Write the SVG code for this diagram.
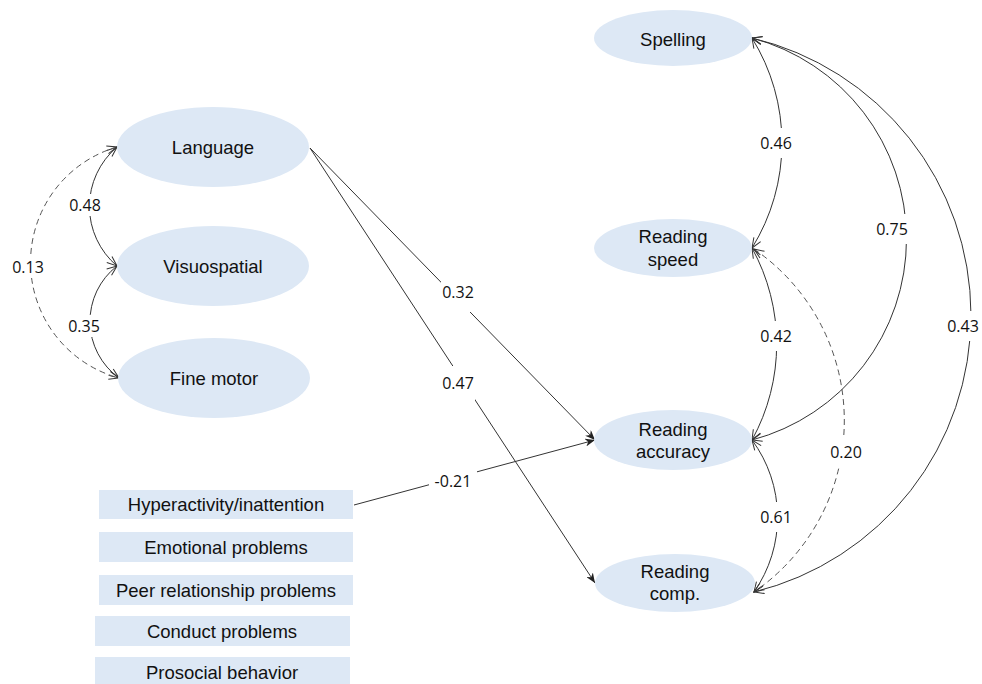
<svg xmlns="http://www.w3.org/2000/svg" width="982" height="684" viewBox="0 0 982 684">
<style>
.node ellipse, .node rect { fill: #dde8f5; stroke: none; }
.node text { font-family: "Liberation Sans", Arial, sans-serif; font-size: 18.5px; fill: #111; text-anchor: middle; }
.c { fill: none; stroke: #333; stroke-width: 1; }
.cv { marker-start: url(#open); marker-end: url(#open); }
.d { stroke: #555; stroke-dasharray: 6 4; }
.s { marker-end: url(#solid); }
.lb { fill: #fff; stroke: none; }
.lt { font-family: "Open Sans", "Noto Sans", sans-serif; font-size: 16px; fill: #111; text-anchor: middle; }
</style>
<defs>
<marker id="open" viewBox="0 0 12 10" refX="11" refY="5" markerWidth="12" markerHeight="10" markerUnits="userSpaceOnUse" orient="auto-start-reverse">
<path d="M1,1 L11,5 L1,9" fill="none" stroke="#333" stroke-width="1"/>
</marker>
<marker id="solid" viewBox="0 0 10 8" refX="10" refY="4" markerWidth="10" markerHeight="8" markerUnits="userSpaceOnUse" orient="auto">
<path d="M0,0 L10,4 L0,8 L3,4 Z" fill="#222"/>
</marker>
</defs>
<rect width="982" height="684" fill="#fff"/>

<g id="connectors">
<path class="c cv" d="M117,147 A78,78 0 0 0 117,266"/>
<path class="c cv" d="M117,266 A70,70 0 0 0 119,378"/>
<path class="c cv d" d="M117,147 A120,120 0 0 0 119,378"/>
<path class="c s" d="M310,148 L595,440"/>
<path class="c s" d="M310,148 L595,583"/>
<path class="c s" d="M354,505 L595,440"/>
<path class="c cv" d="M752,38 A199,199 0 0 1 752,248"/>
<path class="c cv" d="M752,248 A199,199 0 0 1 752,440"/>
<path class="c cv" d="M752,440 A130,130 0 0 1 754,592"/>
<path class="c cv" d="M752,38 A208,208 0 0 1 752,440"/>
<path class="c cv" d="M752,38 A285,285 0 0 1 754,592"/>
<path class="c cv d" d="M754,249 A208,208 0 0 1 754,592"/>

<rect class="lb" x="11" y="256" width="34" height="22"/>
<text class="lt" x="28" y="273">0.13</text>
<rect class="lb" x="68" y="194" width="34" height="22"/>
<text class="lt" x="85" y="211">0.48</text>
<rect class="lb" x="67" y="315" width="34" height="22"/>
<text class="lt" x="84" y="332">0.35</text>
<rect class="lb" x="441" y="272" width="34" height="40"/>
<text class="lt" x="458" y="298">0.32</text>
<rect class="lb" x="441" y="366" width="34" height="36"/>
<text class="lt" x="458" y="389">0.47</text>
<rect class="lb" x="429" y="470" width="48" height="22"/>
<text class="lt" x="453" y="487">-0.21</text>
<rect class="lb" x="759" y="128" width="34" height="30"/>
<text class="lt" x="776" y="149">0.46</text>
<rect class="lb" x="875" y="214" width="36" height="30"/>
<text class="lt" x="892" y="235">0.75</text>
<rect class="lb" x="759" y="321" width="34" height="30"/>
<text class="lt" x="776" y="342">0.42</text>
<rect class="lb" x="946" y="311" width="36" height="30"/>
<text class="lt" x="963" y="332">0.43</text>
<rect class="lb" x="829" y="438" width="34" height="30"/>
<text class="lt" x="846" y="458">0.20</text>
<rect class="lb" x="759" y="502" width="34" height="30"/>
<text class="lt" x="776" y="523">0.61</text>
</g>

<g id="language" class="node"><ellipse cx="213" cy="147" rx="96" ry="40"/><text x="213" y="154">Language</text></g>
<g id="visuospatial" class="node"><ellipse cx="213" cy="266" rx="96" ry="40"/><text x="213" y="273">Visuospatial</text></g>
<g id="fine-motor" class="node"><ellipse cx="214" cy="378" rx="96" ry="40"/><text x="214" y="385">Fine motor</text></g>

<g id="spelling" class="node"><ellipse cx="673" cy="38" rx="79" ry="28"/><text x="673" y="46">Spelling</text></g>
<g id="reading-speed" class="node"><ellipse cx="673" cy="248" rx="79" ry="29"/><text x="673" y="243">Reading</text><text x="673" y="266">speed</text></g>
<g id="reading-accuracy" class="node"><ellipse cx="673" cy="440" rx="79" ry="30"/><text x="673" y="436">Reading</text><text x="673" y="458">accuracy</text></g>
<g id="reading-comp" class="node"><ellipse cx="675" cy="583" rx="80" ry="29"/><text x="675" y="578">Reading</text><text x="675" y="600">comp.</text></g>

<g id="hyperactivity" class="node"><rect x="99" y="490" width="254" height="29"/><text x="226" y="511">Hyperactivity/inattention</text></g>
<g id="emotional" class="node"><rect x="99" y="532" width="254" height="30"/><text x="226" y="554">Emotional problems</text></g>
<g id="peer" class="node"><rect x="99" y="575" width="254" height="30"/><text x="226" y="597">Peer relationship problems</text></g>
<g id="conduct" class="node"><rect x="95" y="616" width="255" height="30"/><text x="222" y="638">Conduct problems</text></g>
<g id="prosocial" class="node"><rect x="95" y="657" width="255" height="30"/><text x="222" y="679">Prosocial behavior</text></g>
</svg>
